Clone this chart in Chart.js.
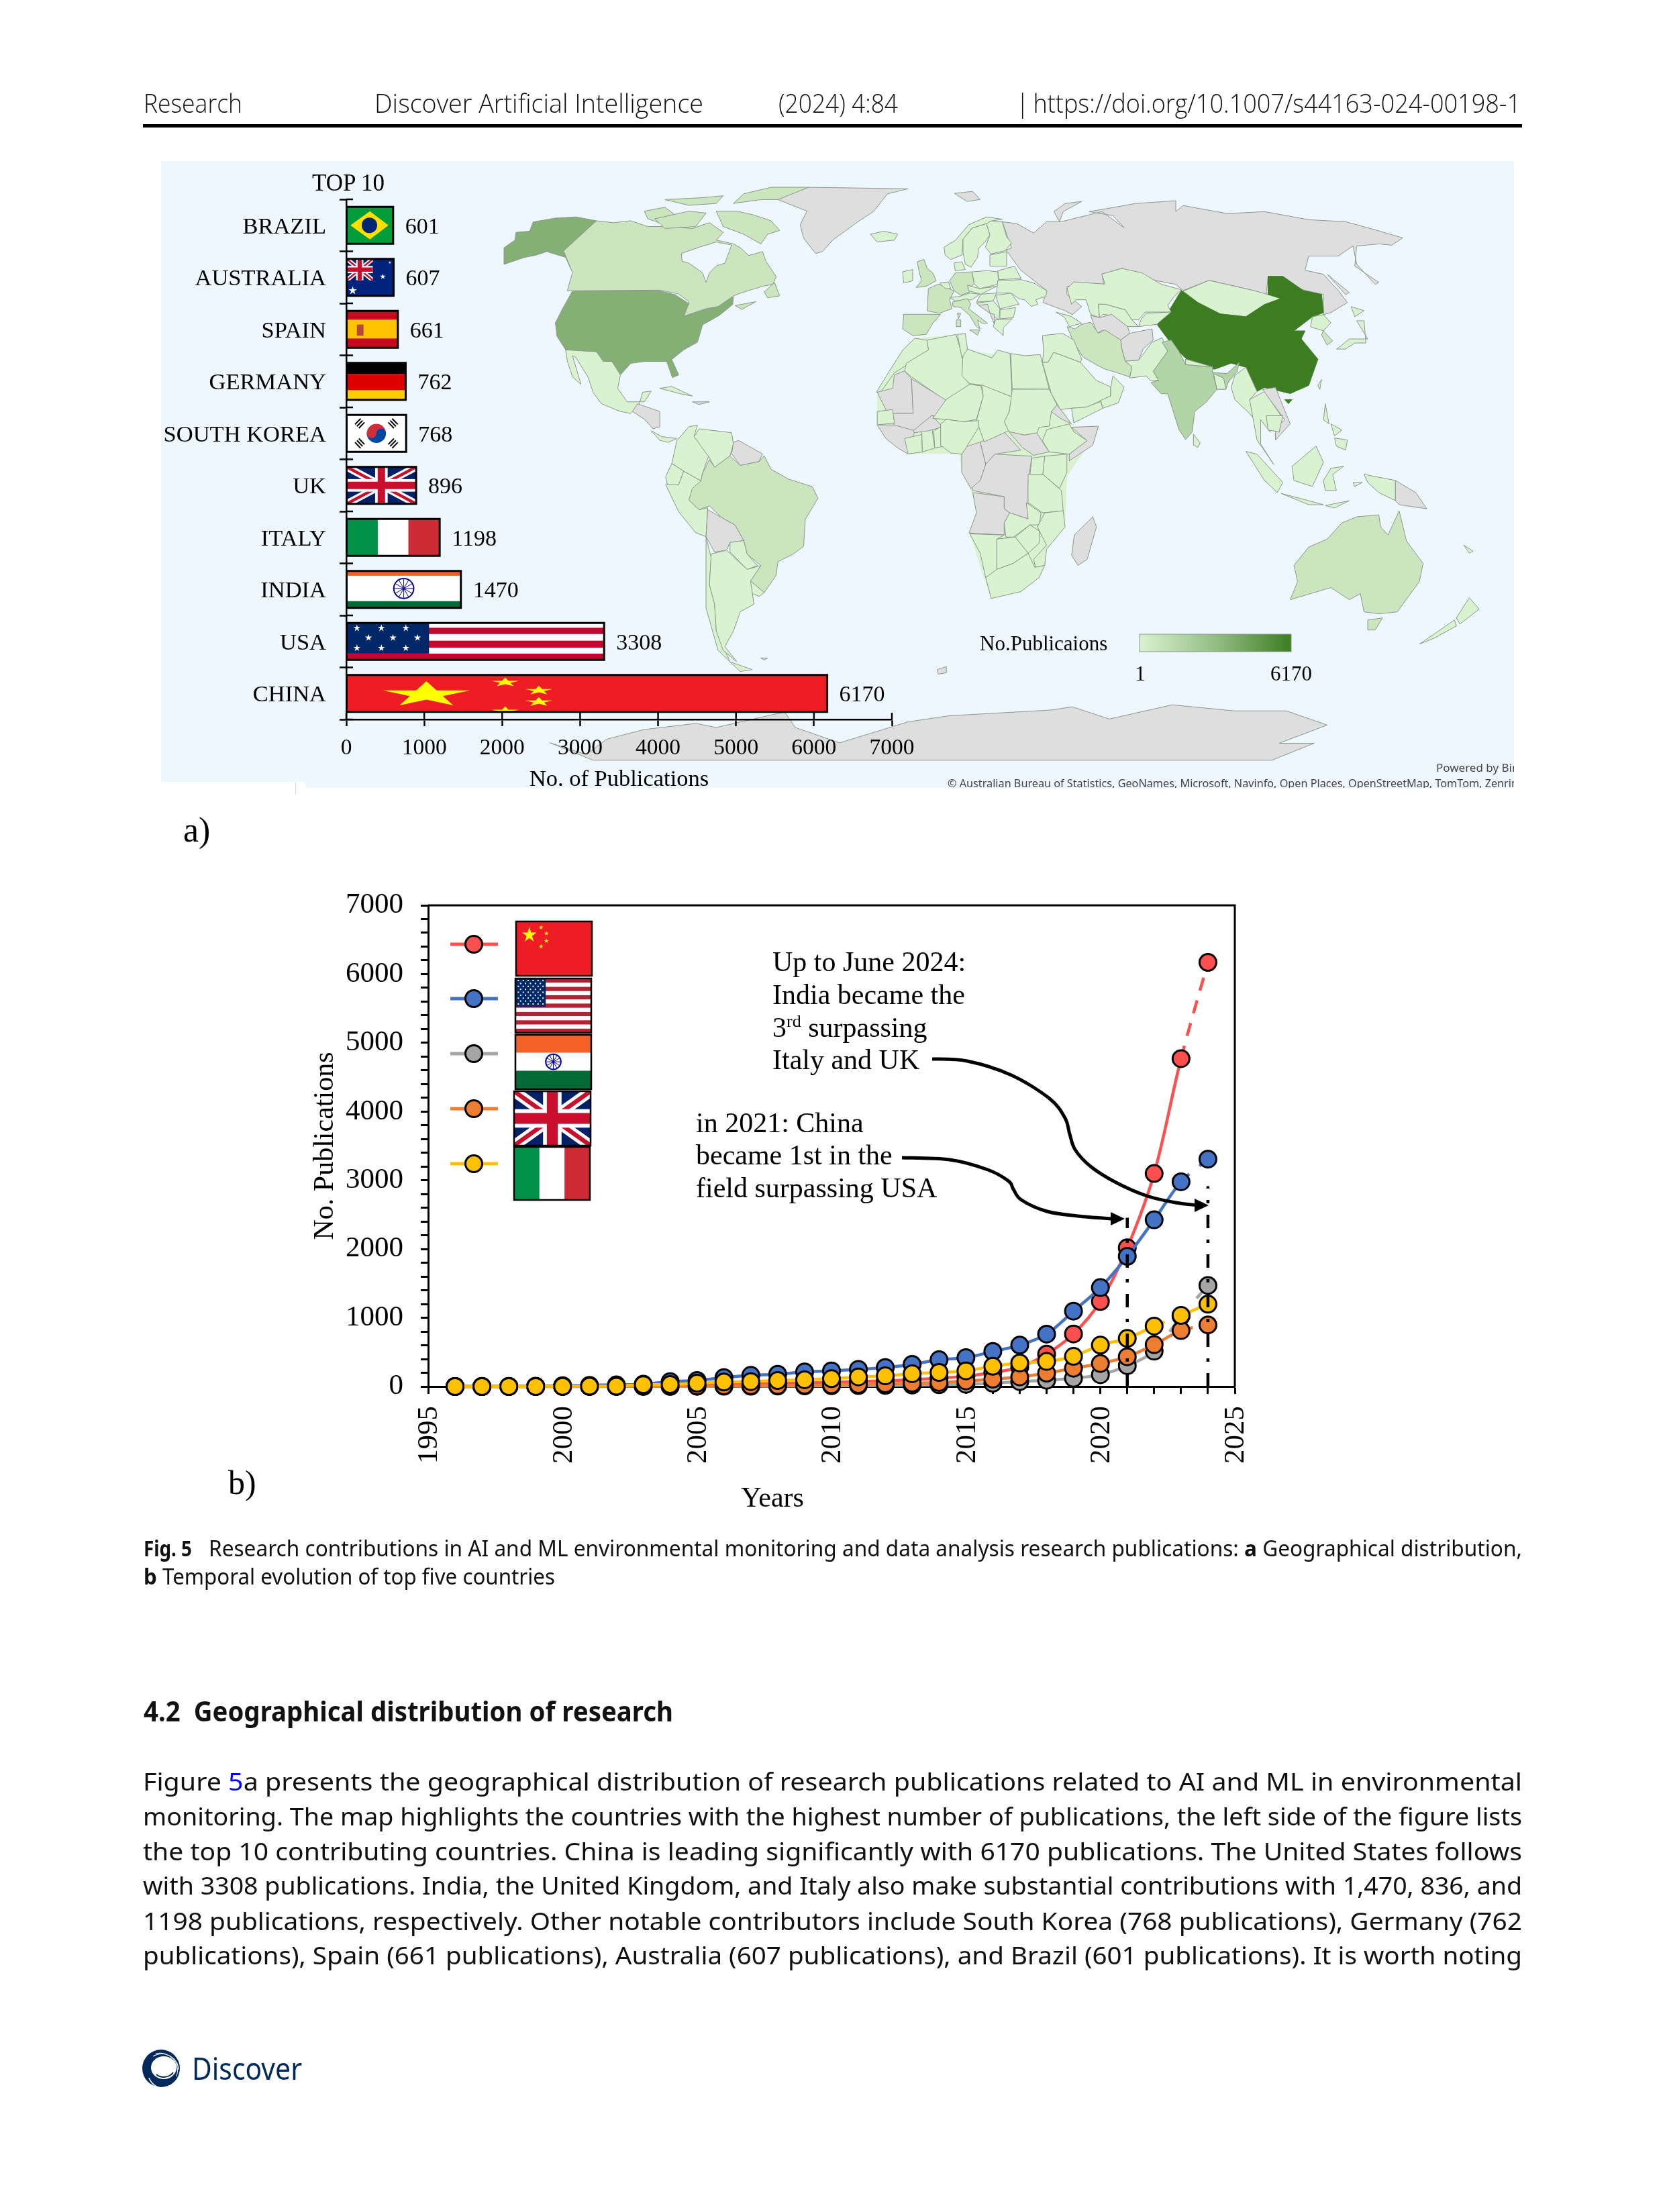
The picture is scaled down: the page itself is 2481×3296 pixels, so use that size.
<!DOCTYPE html>
<html><head><meta charset="utf-8">
<script src="https://cdn.jsdelivr.net/npm/chart.js@4"></script>
<style>
html,body{margin:0;padding:0;background:#fff}
#page{position:relative;width:2481px;height:3296px;overflow:hidden;background:#fff}
#page>*{position:absolute;left:0;top:0}
#panel{left:240px;top:240px;width:2016px;height:934px;background:#EEF7FE}
#notch{left:240px;top:1165px;width:215px;height:12px;background:#fff}
#notchLine{left:440px;top:1166px;width:1px;height:18px;background:#DADADA}
#rule{left:213px;top:185px;width:2055px;height:5px;background:#000}
</style></head><body>
<div id="page">
<div id="rule"></div>
<div id="panel"></div>
<div id="notch"></div>
<div id="notchLine"></div>
<svg id="map" width="2481" height="1300"></svg>
<canvas id="barChart" width="1160" height="943" style="left:240px;top:240px"></canvas>
<canvas id="lineChart" width="1460" height="940" style="left:440px;top:1320px"></canvas>
<svg id="text" width="2481" height="3296"></svg>
</div>
<script>
// ---------- chart values ----------
const barCountries = ['BRAZIL','AUSTRALIA','SPAIN','GERMANY','SOUTH KOREA','UK','ITALY','INDIA','USA','CHINA'];
const barValues    = [601,607,661,762,768,896,1198,1470,3308,6170];
const years  = [1996,1997,1998,1999,2000,2001,2002,2003,2004,2005,2006,2007,2008,2009,2010,2011,2012,2013,2014,2015,2016,2017,2018,2019,2020,2021,2022,2023,2024];
const china  = [0,0,1,1,2,3,5,8,12,18,26,34,42,52,62,74,84,100,122,150,205,282,472,765,1237,2018,3099,4770,6170];
const usa    = [1,2,3,6,12,18,24,33,72,88,130,163,179,212,228,250,277,322,390,420,510,602,762,1097,1439,1894,2425,2978,3308];
const india  = [0,0,0,0,1,1,1,2,2,3,4,5,7,9,11,14,17,21,26,33,49,72,91,120,172,303,514,1025,1470];
const uk     = [0,0,0,1,1,2,2,3,4,7,9,12,16,20,25,30,39,49,59,81,107,140,195,267,335,433,609,814,896];
const italy  = [0,0,1,1,3,5,6,26,29,49,65,72,88,98,114,140,155,186,205,228,295,342,365,439,602,700,879,1035,1198];
const xTickStep = 5;
const yTickStep = 1000;

// ---------- shared ----------
const SERIF = '"Liberation Serif","Times New Roman",serif';
const SANS  = '"Noto Sans","Open Sans",sans-serif';
Chart.defaults.font.family = SERIF;
Chart.defaults.color = '#000';

function fixBox(dim,val){
  return s=>{ s[dim]=val; s.paddingTop=0; s.paddingBottom=0; s.paddingLeft=0; s.paddingRight=0; };
}
function star(c,cx,cy,rx,ry,col){
  c.fillStyle=col; c.beginPath();
  for(let i=0;i<10;i++){
    const r=i%2?0.38:1, a=-Math.PI/2+i*Math.PI/5;
    const px=cx+Math.cos(a)*rx*r, py=cy+Math.sin(a)*ry*r;
    i?c.lineTo(px,py):c.moveTo(px,py);
  }
  c.closePath(); c.fill();
}
function bands(c,x,y,w,h,list,vertical){
  for(const [a,b,col] of list){
    c.fillStyle=col;
    vertical?c.fillRect(x+a*w,y,(b-a)*w,h):c.fillRect(x,y+a*h,w,(b-a)*h);
  }
}
function unionJack(c,x,y,w,h){
  c.save(); c.beginPath(); c.rect(x,y,w,h); c.clip();
  c.fillStyle='#012169'; c.fillRect(x,y,w,h);
  const diag=(col,lw)=>{c.strokeStyle=col;c.lineWidth=lw;c.beginPath();c.moveTo(x,y);c.lineTo(x+w,y+h);c.moveTo(x+w,y);c.lineTo(x,y+h);c.stroke();};
  diag('#fff',h*0.2); diag('#C8102E',h*0.08);
  c.fillStyle='#fff'; c.fillRect(x,y+h*0.33,w,h*0.34); c.fillRect(x+w/2-h*0.17,y,h*0.34,h);
  c.fillStyle='#C8102E'; c.fillRect(x,y+h*0.4,w,h*0.2); c.fillRect(x+w/2-h*0.1,y,h*0.2,h);
  c.restore();
}
function drawFlag(c,name,x,y,w,h,legend){
  c.save(); c.beginPath(); c.rect(x,y,w,h); c.clip();
  switch(name){
    case 'BRAZIL':
      c.fillStyle='#009B3A'; c.fillRect(x,y,w,h);
      c.fillStyle='#FEDF00'; c.beginPath(); c.moveTo(x+.08*w,y+.5*h); c.lineTo(x+.5*w,y+.12*h); c.lineTo(x+.9*w,y+.5*h); c.lineTo(x+.5*w,y+.88*h); c.closePath(); c.fill();
      c.fillStyle='#002776'; c.beginPath(); c.arc(x+.49*w,y+.5*h,h*.21,0,7); c.fill();
      break;
    case 'AUSTRALIA':
      c.fillStyle='#00247D'; c.fillRect(x,y,w,h);
      unionJack(c,x,y,w*.56,h*.58);
      star(c,x+.77*w,y+.48*h,h*.08,h*.08,'#fff');
      star(c,x+.13*w,y+.86*h,h*.12,h*.12,'#fff');
      star(c,x+.92*w,y+.1*h,h*.04,h*.04,'#fff');
      break;
    case 'SPAIN':
      bands(c,x,y,w,h,[[0,.24,'#C60B1E'],[.24,.75,'#FFC400'],[.75,1,'#C60B1E']]);
      c.fillStyle='#B5473A'; c.fillRect(x+.2*w,y+.37*h,w*.13,h*.3);
      break;
    case 'GERMANY':
      bands(c,x,y,w,h,[[0,.3,'#000'],[.3,.74,'#DD0000'],[.74,1,'#FFCE00']]);
      break;
    case 'SOUTH KOREA': {
      c.fillStyle='#fff'; c.fillRect(x,y,w,h);
      const cx=x+.5*w, cy=y+.5*h, r=h*.26;
      c.fillStyle='#CD2E3A'; c.beginPath(); c.arc(cx,cy,r,Math.PI,0); c.fill();
      c.fillStyle='#0047A0'; c.beginPath(); c.arc(cx,cy,r,0,Math.PI); c.fill();
      c.beginPath(); c.arc(cx+r/2,cy,r/2,0,7); c.fill();
      c.fillStyle='#CD2E3A'; c.beginPath(); c.arc(cx-r/2,cy,r/2,0,7); c.fill();
      c.strokeStyle='#000'; c.lineWidth=2;
      for(const [dx,dy,rot] of [[-.28,-.27,-.8],[.28,-.27,.8],[-.28,.27,.8],[.28,.27,-.8]]){
        c.save(); c.translate(cx+dx*w,cy+dy*h); c.rotate(rot);
        for(let k=-1;k<=1;k++){c.beginPath();c.moveTo(-6,k*4);c.lineTo(6,k*4);c.stroke();}
        c.restore();
      }
      break; }
    case 'UK': unionJack(c,x,y,w,h); break;
    case 'ITALY':
      bands(c,x,y,w,h,[[0,.335,'#009246'],[.335,.665,'#fff'],[.665,1,'#CE2B37']],true);
      break;
    case 'INDIA': {
      const a=legend?.33:.13, b=legend?.66:.82;
      bands(c,x,y,w,h,[[0,a,'#F46125'],[a,b,'#fff'],[b,1,'#046A38']]);
      const r=legend?h*.14:h*.27;
      c.strokeStyle='#06038D'; c.lineWidth=2; c.beginPath(); c.arc(x+.5*w,y+(a+b)/2*h,r,0,7); c.stroke();
      c.lineWidth=1;
      for(let i=0;i<12;i++){const t=i*Math.PI/6;c.beginPath();c.moveTo(x+.5*w,y+(a+b)/2*h);c.lineTo(x+.5*w+Math.cos(t)*r,y+(a+b)/2*h+Math.sin(t)*r);c.stroke();}
      break; }
    case 'USA':
      c.fillStyle='#fff'; c.fillRect(x,y,w,h);
      if(legend){
        for(let i=0;i<13;i+=2) bands(c,x,y,w,h,[[i/13,(i+1)/13,'#B22234']]);
        c.fillStyle='#002868'; c.fillRect(x,y,w*.4,h*.52);
        c.fillStyle='#fff';
        for(let r=0;r<9;r++) for(let q=0;q<(r%2?5:6);q++) c.fillRect(x+w*.03+q*w*.065+(r%2?w*.03:0),y+h*.025+r*h*.054,2,2);
      }else{
        bands(c,x,y,w,h,[[.13,.3,'#BF0A30'],[.48,.67,'#BF0A30'],[.83,1,'#BF0A30']]);
        c.fillStyle='#002868'; c.fillRect(x,y,w*.32,h*.83);
        for(const [sx,sy] of [[.04,.14],[.135,.14],[.23,.14],[.085,.4],[.18,.4],[.275,.4],[.04,.68],[.135,.68],[.23,.68]])
          star(c,x+sx*w,y+sy*h,h*.1,h*.1,'#fff');
      }
      break;
    case 'CHINA':
      c.fillStyle='#EE1C25'; c.fillRect(x,y,w,h);
      if(legend){
        star(c,x+.175*w,y+.25*h,.1*w,.15*h,'#FFFF00');
        for(const [sx,sy] of [[.33,.11],[.4,.22],[.4,.36],[.33,.46]]) star(c,x+sx*w,y+sy*h,.032*w,.045*h,'#FFFF00');
      }else{
        star(c,x+.166*w,y+.53*h,.095*w,.36*h,'#FFFF00');
        for(const [sx,sy] of [[.33,.2],[.4,.42],[.4,.73],[.33,.98]]) star(c,x+sx*w,y+sy*h,.03*w,.13*h,'#FFFF00');
      }
      break;
  }
  c.restore();
}

// ---------- bar chart (a) ----------
const barDeco = {
  id:'barDeco',
  afterDatasetsDraw(ch){
    const c=ch.ctx, meta=ch.getDatasetMeta(0), X=ch.scales.x, Y=ch.scales.y;
    meta.data.forEach((el,i)=>{
      const h=el.height, x0=el.base, x1=el.x, top=el.y-h/2;
      drawFlag(c,barCountries[i],x0,top,x1-x0,h,false);
      c.strokeStyle='#000'; c.lineWidth=3; c.strokeRect(x0,top,x1-x0,h);
      c.fillStyle='#000'; c.font='34px '+SERIF; c.textBaseline='middle'; c.textAlign='left';
      c.fillText(String(barValues[i]),x1+18,el.y+3);
    });
    c.strokeStyle='#000'; c.lineWidth=2.5; c.beginPath();
    X.ticks.forEach(t=>{const p=X.getPixelForValue(t.value);c.moveTo(p,Y.bottom);c.lineTo(p,Y.bottom-10);});
    for(let i=0;i<=barCountries.length;i++){const p=Y.top+i*(Y.bottom-Y.top)/barCountries.length;c.moveTo(Y.right,p);c.lineTo(Y.right+10,p);}
    c.stroke();
  }
};
new Chart(document.getElementById('barChart'),{
  type:'bar',
  data:{labels:barCountries,datasets:[{data:barValues,backgroundColor:'#888',borderColor:'#000',borderWidth:0,barPercentage:.71,categoryPercentage:1}]},
  plugins:[barDeco],
  options:{
    indexAxis:'y',responsive:false,animation:false,devicePixelRatio:1,
    layout:{autoPadding:false,padding:{left:0,top:57,right:71,bottom:0}},
    plugins:{legend:{display:false},tooltip:{enabled:false},title:{display:false}},
    scales:{
      x:{type:'linear',min:0,max:7000,
        ticks:{stepSize:1000,maxRotation:0,padding:13,font:{size:33.5},color:'#000',callback:v=>String(v)},
        grid:{drawOnChartArea:false,tickLength:10,tickWidth:2.5,tickColor:'#000'},
        border:{color:'#000',width:2.5},
        title:{display:true,text:'No. of Publications',font:{size:34.5},color:'#000',padding:{top:6,bottom:0}},
        afterFit:fixBox('height',111)},
      y:{type:'category',
        ticks:{padding:20,font:{size:34.5},color:'#000',autoSkip:false,labelOffset:3},
        grid:{drawOnChartArea:false,offset:true,tickLength:10,tickWidth:2.5,tickColor:'#000'},
        border:{color:'#000',width:2.5},
        afterFit:fixBox('width',276)}
    }
  }
});

// ---------- line chart (b) ----------
const colors={red:'#FF5050',blue:'#4472C4',gray:'#A5A5A5',orange:'#ED7D31',yellow:'#FFC000'};
const toXY=arr=>arr.map((v,i)=>({x:years[i],y:v}));
const dashOn=(map)=>(ctx)=>map[ctx.p0DataIndex];
function lineSet(label,arr,col,order,dashes){
  return {label,data:toXY(arr),borderColor:col,backgroundColor:col,borderWidth:4.5,tension:.32,
    pointRadius:12.5,pointBorderWidth:3,pointBorderColor:'#000',pointBackgroundColor:col,clip:false,order,
    segment:{borderDash:dashOn(dashes||{})}};
}
const guide=(yr,top)=>({data:[{x:yr,y:0},{x:yr,y:top}],borderColor:'#000',borderWidth:4.5,borderDash:[20,17,5,17],pointRadius:0,tension:0,clip:false,order:0});
const legendRows=[['CHINA',colors.red],['USA',colors.blue],['INDIA',colors.gray],['UK',colors.orange],['ITALY',colors.yellow]];
const legendPx={lineX:[671,742],dotX:706,rowY:[1407,1488,1570,1652,1734],
  flags:[[769,1373,113,81],[768,1458,113,81],[768,1542,113,81],[766,1626,114,81],[766,1709,113,79]]};
const arrowPaths=[
  [[1389,1578],[1441,1581],[1507,1602],[1564,1637],[1587,1666],[1594,1690],[1602,1713],[1625,1738],[1663,1762],[1709,1782],[1752,1792],[1785,1796]],
  [[1344,1725],[1415,1728],[1472,1743],[1503,1760],[1510,1772],[1522,1788],[1560,1805],[1606,1812],[1656,1816]]
];
const arrowTips=[[1801,1796],[1676,1816]];
const CHART_B_ORIGIN=[440,1320];
const lineDeco={
  id:'lineDeco',
  afterDatasetsDraw(ch){
    const c=ch.ctx, A=ch.chartArea, [ox,oy]=CHART_B_ORIGIN;
    c.save();
    c.strokeStyle='#000'; c.lineWidth=3; c.beginPath();
    c.moveTo(A.left,A.top); c.lineTo(A.right,A.top); c.lineTo(A.right,A.bottom); c.stroke();
    legendRows.forEach(([name,col],i)=>{
      const y=legendPx.rowY[i]-oy;
      c.strokeStyle=col; c.lineWidth=5; c.beginPath(); c.moveTo(legendPx.lineX[0]-ox,y); c.lineTo(legendPx.lineX[1]-ox,y); c.stroke();
      c.fillStyle=col; c.strokeStyle='#000'; c.lineWidth=3; c.beginPath(); c.arc(legendPx.dotX-ox,y,12.5,0,7); c.fill(); c.stroke();
      const [fx,fy,fw,fh]=legendPx.flags[i];
      drawFlag(c,name,fx-ox,fy-oy,fw,fh,true);
      c.strokeStyle='#000'; c.lineWidth=2.5; c.strokeRect(fx-ox,fy-oy,fw,fh);
    });
    arrowPaths.forEach((pts,k)=>{
      c.strokeStyle='#000'; c.lineWidth=5; c.lineJoin='round'; c.beginPath();
      const P=pts.map(p=>[p[0]-ox,p[1]-oy]);
      c.moveTo(P[0][0],P[0][1]);
      for(let i=0;i<P.length-1;i++){
        const p0=P[Math.max(i-1,0)],p1=P[i],p2=P[i+1],p3=P[Math.min(i+2,P.length-1)];
        c.bezierCurveTo(p1[0]+(p2[0]-p0[0])/6,p1[1]+(p2[1]-p0[1])/6,p2[0]-(p3[0]-p1[0])/6,p2[1]-(p3[1]-p1[1])/6,p2[0],p2[1]);
      }
      c.stroke();
      const [tx,ty]=arrowTips[k];
      c.fillStyle='#000'; c.beginPath(); c.moveTo(tx-ox,ty-oy); c.lineTo(tx-ox-21,ty-oy-10); c.lineTo(tx-ox-21,ty-oy+10); c.closePath(); c.fill();
    });
    c.restore();
  }
};
new Chart(document.getElementById('lineChart'),{
  type:'line',
  data:{datasets:[
    lineSet('China',china,colors.red,5,{27:[20,15]}),
    lineSet('USA',usa,colors.blue,4,{27:[17,19,30]}),
    lineSet('India',india,colors.gray,3,{26:[20,17,40],27:[15,20,30]}),
    lineSet('UK',uk,colors.orange,2,{27:[18,200]}),
    lineSet('Italy',italy,colors.yellow,1,{26:[17,200]}),
    guide(2021,2455),
    guide(2024,2915)
  ]},
  plugins:[lineDeco],
  options:{
    responsive:false,animation:false,devicePixelRatio:1,
    layout:{autoPadding:false,padding:{left:0,top:29,right:60,bottom:0}},
    plugins:{legend:{display:false},tooltip:{enabled:false},title:{display:false}},
    scales:{
      x:{type:'linear',min:1995,max:2025,
        ticks:{stepSize:1,autoSkip:false,minRotation:90,maxRotation:90,padding:18,labelOffset:2,font:{size:43},color:'#000',
          callback:v=>v%xTickStep===0?String(v):''},
        grid:{drawOnChartArea:false,tickLength:11,tickWidth:3,tickColor:'#000'},
        border:{color:'#000',width:3},
        afterFit:fixBox('height',194)},
      y:{type:'linear',min:0,max:7000,
        ticks:{stepSize:200,autoSkip:false,padding:26,font:{size:43},color:'#000',
          callback:v=>v%yTickStep===0?String(v):''},
        grid:{drawOnChartArea:false,tickLength:11,tickWidth:3,tickColor:'#000'},
        border:{color:'#000',width:3},
        title:{display:true,text:'No. Publications',font:{size:42},color:'#000',padding:{top:20,bottom:0}},
        afterFit:fixBox('width',198)}
    }
  }
});

// ---------- world map backdrop ----------
const F={l:'#D9F2D0',m:'#CBE6BF',u:'#85B075',i:'#B2D5A8',c:'#3D7D22',g:'#DEDEDE'};
const MAP_UNDER=[
['a','-67,438 45,430 60,470 195,480 260,490 305,565 360,655 435,660 345,780 340,905 290,960 285,1000 220,1065 140,1082 120,1030 82,922 100,870 85,815 60,770 54,724 -85,724 -169,653 -169,572 -146,534 -99,467']
];
const MAP_W=[
['u','100,225 132,205 135,185 175,182 185,158 250,148 310,145 370,155 272,235 300,240 315,270 295,280 280,250 225,235 190,245 160,250 100,268'],
['m','370,155 420,160 470,155 520,170 580,170 650,175 700,160 740,185 720,205 770,215 790,225 815,245 855,235 865,260 895,300 885,320 855,325 800,340 770,350 725,378 690,383 625,403 640,365 610,345 555,335 285,337 290,320 300,290 275,235 272,235'],
['o','618,240 665,225 720,210 765,218 745,265 720,272 700,290 690,315 680,290 640,265 620,260'],
['m','720,130 780,130 830,140 880,155 905,180 870,190 850,215 800,190 740,170'],
['m','800,85 880,68 990,68 910,100 850,100 770,110'],
['m','510,130 570,120 600,140 570,165 520,150'],
['m','540,150 640,130 690,135 660,170 570,175'],
['m','570,100 680,95 740,90 720,110 640,115'],
['m','860,340 890,315 905,350 870,355'],
['m','775,375 835,365 795,385'],
['u','300,337 555,337 600,347 640,370 625,403 690,385 725,378 770,352 768,372 730,400 680,425 665,470 625,490 590,515 610,555 592,562 575,520 510,520 470,525 440,555 415,520 390,520 370,495 280,490 255,455 250,420 270,385'],
['l','280,490 370,495 390,520 415,520 440,555 432,590 460,625 510,625 530,597 505,600 495,630 470,655 440,650 385,630 360,600 345,560 310,510 300,505 325,580 300,560 285,520'],
['g','475,650 490,630 555,650 555,690 535,695 510,670'],
['l','530,700 560,715 605,720 580,730 555,725'],
['l','555,590 590,585 650,610 620,605'],
['g','650,625 700,625 670,632'],
['l','1170,190 1210,182 1250,190 1240,205 1190,210'],
['g','900,100 990,68 1280,72 1220,85 1180,130 1130,160 1060,205 1030,235 1010,240 975,200 965,165 985,130'],
['l','605,725 640,690 665,685 655,715 700,760 690,785 680,810 675,830 625,805 590,785'],
['l','655,715 670,695 765,705 770,735 760,765 715,795 700,770'],
['g','770,730 785,725 855,760 845,780 790,790 765,760'],
['l','590,785 625,805 610,840 580,850 572,820'],
['l','572,840 610,840 625,805 675,830 640,880 670,905 695,900 690,975 660,965 610,910'],
['m','680,810 700,775 715,795 760,765 790,790 845,780 860,765 880,800 930,825 1000,845 1017,875 980,930 975,1000 945,1020 900,1040 895,1075 860,1120 820,1090 850,1050 810,1020 800,985 775,945 735,925 700,895 670,905 640,880 650,850 675,830'],
['g','690,975 695,905 735,925 775,945 800,985 760,990 750,1010 715,1015'],
['l','760,990 800,985 810,1020 840,1050 810,1060 760,1015'],
['l','820,1090 860,1120 845,1130 818,1120'],
['l','690,975 705,1030 700,1100 715,1150 720,1220 760,1300 825,1320 790,1325 725,1270 690,1160'],
['l','705,1020 750,1010 810,1060 850,1050 820,1090 830,1150 790,1170 770,1220 745,1260 780,1300 740,1270 720,1220 715,1150 700,1100'],
['g','850,1290 870,1290 860,1295'],
['g','1365,1320 1392,1312 1392,1328 1368,1332'],
['l','1265,490 1300,460 1335,465 1340,490 1275,530 1240,550 1200,600 1188,600 1215,560'],
['l','1275,525 1340,490 1335,465 1420,450 1440,510 1440,555 1460,580 1395,625 1290,560 1270,545'],
['g','1190,600 1235,590 1240,555 1270,545 1290,565 1295,655 1230,655 1215,645'],
['g','1290,565 1390,620 1385,670 1350,660 1300,700 1240,690 1235,655 1295,655'],
['l','1190,650 1235,645 1240,680 1190,685'],
['g','1190,685 1240,685 1300,700 1280,760 1250,745 1215,720'],
['l','1270,720 1320,710 1322,755 1280,760'],
['l','1320,700 1350,695 1358,745 1322,755'],
['g','1295,700 1350,660 1380,690 1340,700 1300,705'],
['l','1355,700 1385,685 1385,740 1358,745']
];
const MAP_Z=[
['l','80,235 130,205 190,135 270,100 340,110 290,118 270,130 205,150 165,200 160,270 110,290 85,270'],
['l','165,200 205,150 270,130 285,180 265,210 235,240 230,280 200,325 175,310 165,260'],
['l','270,130 290,118 340,120 360,190 382,215 355,250 290,265 265,235 285,180'],
['l','125,305 160,300 175,335 130,340'],
['l','285,270 360,255 360,320 285,320'],
['l','320,340 395,320 425,375 325,380'],
['l','205,345 275,340 320,345 325,400 240,420 215,400'],
['m','105,385 130,350 205,345 215,400 185,420 195,435 155,450 125,430'],
['m','10,420 55,400 125,430 105,470 115,510 60,530 5,520'],
['m','-40,300 -10,290 5,330 30,350 45,385 0,410 -45,415 -20,385 -30,350'],
['l','-105,345 -60,335 -60,385 -100,395'],
['l','60,395 100,390 110,420 85,420'],
['m','-100,535 65,535 30,575 0,625 -60,630 -105,600'],
['l','105,460 150,455 195,440 240,445 205,470 130,475'],
['l','185,405 240,420 315,410 245,445 190,430'],
['l','245,445 315,440 300,475 225,480'],
['l','310,450 380,440 415,490 330,510'],
['l','330,515 400,505 390,550 330,555'],
['l','320,385 425,380 480,395 540,430 535,455 490,470 500,490 470,500 440,470 415,465 380,440 315,440'],
['l','225,485 300,475 330,510 325,560 285,530'],
['g','235,495 275,490 285,530'],
['g','285,530 305,535 305,580'],
['l','310,560 385,555 345,595 345,630 300,590'],
['m','118,480 185,465 200,490 190,510 275,575 250,575 230,560 240,600 225,590 195,540 155,505 120,500'],
['m','195,605 240,605 230,628'],
['m','135,560 155,560 155,590 135,590'],
['m','140,530 155,530 145,555'],
['l','165,710 185,690 240,710 295,730 320,695 375,710 385,905 240,850 195,845 160,810'],
['l','140,625 175,620 185,690 160,730'],
['l','378,710 440,720 510,715 550,870 385,868'],
['l','248,850 385,905 372,970 350,1015 370,1055 260,1105 225,1010 255,900'],
['l','385,870 550,870 585,940 560,970 550,1035 505,1040 495,1065 440,1075 370,1060 350,1015 372,970'],
['l','90,915 195,848 245,855 255,900 225,1005 170,1015 90,1005 30,1000'],
['l','65,1025 90,1005 170,1015 235,1010 235,1040 160,1160 110,1155 65,1120'],
['l','520,1100 540,1050 640,1025 660,1060 720,1100 640,1160 550,1150'],
['g','650,1040 770,1035 745,1120 640,1190 640,1160 720,1100'],
['g','560,970 585,940 650,1025 600,1000'],
['g','370,1060 440,1075 495,1065 520,1105 550,1150 480,1165 430,1130'],
['l','630,420 660,390 800,400 785,355 875,330 965,350 1050,400 1140,425 1105,460 1080,495 1095,525 980,525 950,560 920,560 890,515 800,490 770,490 775,550 735,535 715,470 670,470 650,490'],
['l','770,490 800,490 890,515 920,560 950,590 900,590 830,540 790,535 775,550'],
['g','735,540 775,550 830,535 900,590 910,620 870,650 790,605 765,620'],
['l','960,560 985,530 1095,525 1030,580 950,590'],
['g','870,650 910,620 1010,600 1015,650 970,690 950,740 890,745 875,690'],
['l','885,745 950,740 1010,660 1055,640 1080,700 1015,790 1040,830 1000,830 985,810 910,820 920,770'],
['m','630,590 665,600 695,580 735,570 770,620 800,605 870,650 875,690 890,745 920,770 910,815 850,795 800,780 760,760 700,725 660,660'],
['l','580,525 650,545 695,575 640,590 620,550'],
['l','520,630 610,620 660,650 695,735 690,750 570,705 545,750 520,750 525,700'],
['l','520,750 545,750 570,705 690,750 760,830 825,860 825,900 720,950 650,955 600,960 560,890'],
['l','825,860 835,810 885,860 860,930 790,955 780,920 825,900'],
['l','650,955 715,950 780,925 790,955 660,1020'],
['i','1015,790 1080,700 1055,660 1095,650 1130,700 1160,760 1280,770 1280,795 1345,800 1400,750 1390,790 1350,840 1340,870 1300,870 1285,810 1300,870 1250,930 1200,970 1190,1060 1160,1095 1130,1050 1080,890 1050,890 1005,840 1040,830'],
['l','1160,735 1280,770 1160,760'],
['l','1285,800 1330,820 1340,870 1300,870'],
['l','1195,1070 1225,1110 1215,1130 1195,1120']
];
const MAP_E=[
['g','170,150 210,155 255,178 290,150 330,150 440,125 500,165 470,135 405,125 470,115 530,105 640,98 640,125 660,110 780,130 880,125 1000,145 1100,150 1180,170 1255,190 1225,208 1190,205 1130,210 1125,260 1190,300 1180,305 1130,255 1120,210 1080,235 1000,235 990,270 1040,280 1080,320 1105,350 1060,375 1040,380 1040,330 990,320 890,285 885,330 850,320 730,295 660,320 640,305 555,290 495,265 440,280 445,305 345,310 345,330 385,360 360,380 340,370 280,350 290,320 220,270 180,220 195,215'],
['g','310,125 340,105 385,100 335,125 325,150'],
['g','40,80 90,75 110,95 75,100'],
['g','1050,280 1110,325 1100,330'],
['l','660,322 730,295 850,320 890,330 925,340 880,355 830,385 760,378 700,350'],
['c','590,405 625,365 655,320 700,350 760,378 830,385 880,355 925,340 890,330 890,285 930,285 985,320 1035,330 1040,375 1010,385 960,420 990,420 980,440 1025,490 1000,555 950,575 880,560 860,570 830,510 790,500 745,515 670,490 640,465 610,430'],
['c','935,590 955,590 945,600'],
['l','1035,540 1030,565 1025,555'],
['l','1010,385 1040,380 1060,400 1040,420 1005,410'],
['m','1040,420 1065,445 1050,455 1035,430'],
['l','1160,440 1110,440 1090,455 1075,465 1100,465 1125,450 1155,450 1150,395 1130,395'],
['l','1115,360 1150,370 1125,385'],
['l','800,530 830,510 860,570 840,590 855,640 835,620 800,590 790,560'],
['l','840,590 880,570 925,630 895,670 870,640 870,700 905,750 860,690'],
['g','875,565 910,560 950,650 910,690 910,660 935,640'],
['l','885,630 930,630 920,670 890,665'],
['l','830,718 860,725 930,795 915,820 880,790'],
['l','925,822 1000,840 1040,850 1000,850'],
['l','955,755 1020,705 1040,745 1010,805 960,790'],
['l','1040,790 1060,760 1095,755 1065,775 1075,815 1045,815'],
['l','1045,600 1055,650 1040,640'],
['l','1070,685 1105,690 1100,715 1075,705'],
['l','1060,650 1090,665 1070,680'],
['l','1150,775 1235,790 1235,840 1190,820 1160,795'],
['g','1235,790 1290,820 1320,860 1245,850 1235,840'],
['l','1120,795 1145,795 1125,805'],
['l','1045,852 1110,840 1070,858'],
['m','1130,880 1190,875 1195,905 1215,925 1245,865 1265,940 1310,995 1300,1040 1240,1115 1190,1120 1150,1115 1140,1070 1110,1085 1060,1055 950,1085 970,1040 960,1000 1000,955 1050,935 1090,895'],
['m','1160,1135 1200,1130 1180,1160 1160,1160'],
['l','1435,1080 1462,1108 1410,1145 1400,1130'],
['l','1300,1195 1395,1135 1400,1150 1340,1180'],
['l','1420,950 1445,965 1435,970'],
['g','110,695 175,670 220,715 150,725 125,750'],
['g','125,750 150,725 250,730 240,795 240,885 190,870 175,860 175,830 90,815 85,800 110,790'],
['g','60,710 110,695 125,750 110,790 85,810 60,770'],
['l','250,735 285,730 280,775 245,775'],
['l','285,730 345,725 345,770 325,810 280,775'],
['l','240,775 280,775 330,815 335,865 280,870 240,845'],
['l','175,895 190,870 240,885 235,845 275,870 270,900 245,900 200,930 180,930'],
['l','285,870 335,865 340,905 290,960 285,1000 260,1005 255,985 290,950 265,905'],
['l','205,930 245,900 270,915 270,945 240,970'],
['l','155,935 205,930 240,970 200,995 155,1010'],
['g','90,820 175,830 175,860 190,870 175,895 175,925 80,920 100,870'],
['l','82,922 175,925 155,935 155,1025 125,1030 110,970'],
['l','125,1030 155,1010 200,995 240,970 258,1005 285,1000 270,1030 220,1065 140,1082'],
['g','415,880 425,905 400,985 375,1000 358,975 365,925'],
['g','-1055,1439 -957,1468 -902,1430 -800,1406 -660,1391 -605,1401 -466,1372 -419,1363 -391,1401 -271,1439 -85,1387 26,1372 300,1358 360,1350 460,1380 630,1345 800,1360 940,1360 1050,1395 920,1440 1015,1440 900,1482 -939,1482']
];
const mapSvg=document.getElementById('map');
const NS='http://www.w3.org/2000/svg';
function mapGroup(list,tx,ty,sx,sy){
  const g=document.createElementNS(NS,'g');
  g.setAttribute('transform',`translate(${tx},${ty}) scale(${sx},${sy})`);
  for(const [k,pts] of list){
    const p=document.createElementNS(NS,'polygon');
    p.setAttribute('points',pts);
    const col=k==='o'?'#EEF7FE':k==='a'?F.l:F[k];
    p.setAttribute('fill',col);
    if(k!=='a'){p.setAttribute('stroke',k==='c'?'#3D7D22':'#8C978C');p.setAttribute('stroke-width','1');p.setAttribute('vector-effect','non-scaling-stroke');}
    g.appendChild(p);
  }
  mapSvg.appendChild(g);
}
mapGroup(MAP_UNDER,1400,240,1/1.818,1/1.66);
mapGroup(MAP_W,700,240,1/1.96,1/1.742);
mapGroup(MAP_E,1400,240,1/1.818,1/1.66);
mapGroup(MAP_Z,1380,290,1/3,1/3);
(function(){
  const d=document.createElementNS(NS,'defs');
  d.innerHTML='<linearGradient id="grad"><stop offset="0" stop-color="#D9F2D0"/><stop offset=".5" stop-color="#93BE84"/><stop offset="1" stop-color="#3D7D22"/></linearGradient>';
  mapSvg.appendChild(d);
  const r=document.createElementNS(NS,'rect');
  r.setAttribute('x',1698);r.setAttribute('y',945);r.setAttribute('width',226);r.setAttribute('height',26);
  r.setAttribute('fill','url(#grad)');r.setAttribute('stroke','#8C978C');
  mapSvg.appendChild(r);
})();

// ---------- page text ----------
const txt=document.getElementById('text');
function addText(parts,x,y,size,o){
  o=o||{};
  const t=document.createElementNS(NS,'text');
  t.setAttribute('x',x);t.setAttribute('y',y);t.setAttribute('font-size',size);
  t.setAttribute('font-family',o.family||SANS);t.setAttribute('fill',o.fill||'#111');
  t.style.whiteSpace='pre';
  if(o.weight)t.setAttribute('font-weight',o.weight);
  if(o.anchor)t.setAttribute('text-anchor',o.anchor);
  if(o.width){t.setAttribute('textLength',o.width);t.setAttribute('lengthAdjust','spacingAndGlyphs');}
  if(o.clip)t.setAttribute('clip-path','url(#panelClip2)');
  (Array.isArray(parts)?parts:[parts]).forEach(p=>{
    const s=document.createElementNS(NS,'tspan');
    if(typeof p==='string'){s.textContent=p;}
    else{s.textContent=p.t;if(p.b)s.setAttribute('font-weight',700);if(p.fill)s.setAttribute('fill',p.fill);
      if(p.size)s.setAttribute('font-size',p.size);if(p.dy)s.setAttribute('dy',p.dy);}
    t.appendChild(s);
  });
  txt.appendChild(t);
}
(function(){
  const d=document.createElementNS(NS,'defs');
  d.innerHTML='<clipPath id="panelClip2"><rect x="240" y="240" width="2016" height="934"/></clipPath>';
  txt.appendChild(d);
})();
const HEAD='"Open Sans","Noto Sans",sans-serif';
addText('Research',214,168,38,{weight:300,width:147,family:HEAD});
addText('Discover Artificial Intelligence',558,168,38,{weight:300,width:490,family:HEAD});
addText('(2024) 4:84',1160,168,38,{weight:300,width:178,family:HEAD});
addText('|\u2009https://doi.org/10.1007/s44163-024-00198-1',1514,168,38,{weight:300,width:752,family:HEAD});
addText('TOP 10',519,284,35,{family:SERIF,anchor:'middle',fill:'#000'});
addText('No.Publicaions',1460,969,31,{family:SERIF,fill:'#000'});
addText('1',1699,1014,31,{family:SERIF,anchor:'middle',fill:'#000'});
addText('6170',1924,1014,31,{family:SERIF,anchor:'middle',fill:'#000'});
addText('Powered by Bing',2140,1150,17,{fill:'#444',clip:true});
addText('© Australian Bureau of Statistics, GeoNames, Microsoft, Navinfo, Open Places, OpenStreetMap, TomTom, Zenrin',1412,1173,17,{fill:'#444',clip:true,width:850});
addText('a)',273,1254,52,{family:SERIF,fill:'#000'});
addText('b)',340,2226,50,{family:SERIF,fill:'#000'});
addText('Up to June 2024:',1151,1447,42,{family:SERIF,fill:'#000'});
addText('India became the',1151,1496,42,{family:SERIF,fill:'#000'});
addText(['3',{t:'rd',size:26,dy:-15},{t:' surpassing',dy:15}],1151,1545,42,{family:SERIF,fill:'#000'});
addText('Italy and UK',1151,1593,42,{family:SERIF,fill:'#000'});
addText('in 2021: China',1037,1687,42,{family:SERIF,fill:'#000'});
addText('became 1st in the',1037,1735,42,{family:SERIF,fill:'#000'});
addText('field surpassing USA',1037,1784,42,{family:SERIF,fill:'#000'});
addText('Years',1151,2245,42,{family:SERIF,anchor:'middle',fill:'#000'});
addText([{t:'Fig. 5',b:1}],214,2319,32,{width:72});
addText(['Research contributions in AI and ML environmental monitoring and data analysis research publications: ',{t:'a',b:1},' Geographical distribution,'],311,2319,32,{width:1957});
addText([{t:'b',b:1},' Temporal evolution of top five countries'],214,2361,32,{width:613});
addText('4.2\u00A0\u00A0Geographical distribution of research',214,2565,42,{weight:700,width:789});
const bodyBase=[2668,2720,2772,2823,2876,2927];
const bodyLines=[
 ['Figure ',{t:'5',fill:'#0000FF'},'a presents the geographical distribution of research publications related to AI and ML in environmental'],
 ['monitoring. The map highlights the countries with the highest number of publications, the left side of the figure lists'],
 ['the top 10 contributing countries. China is leading significantly with 6170 publications. The United States follows'],
 ['with 3308 publications. India, the United Kingdom, and Italy also make substantial contributions with 1,470, 836, and'],
 ['1198 publications, respectively. Other notable contributors include South Korea (768 publications), Germany (762'],
 ['publications), Spain (661 publications), Australia (607 publications), and Brazil (601 publications). It is worth noting']
];
bodyLines.forEach((l,i)=>addText(l,213,bodyBase[i],37,{width:2055}));
addText('Discover',286,3099,45,{fill:'#00295B',width:164});
(function(){
  const g=document.createElementNS(NS,'g');
  g.innerHTML='<circle cx="240" cy="3082" r="28" fill="#00295B"/>'+
   '<ellipse cx="244" cy="3081" rx="19" ry="17" fill="#fff"/>'+
   '<path d="M233 3091 A16 14 0 0 0 258 3088" fill="none" stroke="#00295B" stroke-width="2"/>'+
   '<path d="M228 3064 A25 24 0 0 1 266 3084" fill="none" stroke="#fff" stroke-width="1.2"/>'+
   '<path d="M232 3060 A26 26 0 0 1 263 3094" fill="none" stroke="#fff" stroke-width="1"/>'+
   '<path d="M222 3096 A26 24 0 0 0 270 3099" fill="none" stroke="#fff" stroke-width="1.6"/>';
  txt.appendChild(g);
})();
</script>
</body></html>
